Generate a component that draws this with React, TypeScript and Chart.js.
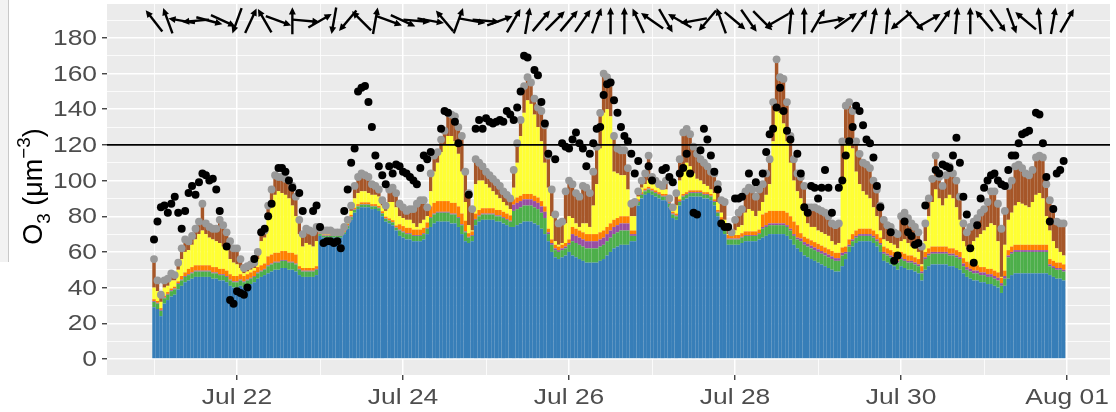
import React, { useEffect, useRef } from "react";
import { Chart, registerables } from "chart.js";

Chart.register(...registerables);

const W = 1116;
const H = 412;

// Hourly model contributions (hours since Jul 21 00:00)
const blue = [
  29, 28, 24, 31, 33, 35, 36, 39, 41, 43,
  44, 45, 46, 46, 46, 46, 46, 45, 45, 44,
  44, 43, 41, 40, 40, 41, 40, 41, 42, 43,
  45, 46, 47, 48, 49, 50, 50, 51, 51, 50,
  50, 49, 47, 46, 46, 46, 46, 47, 69, 68,
  68, 68, 68, 68, 68, 70, 73, 78, 82, 84,
  85, 85, 85, 84, 84, 83, 80, 77, 76, 75,
  72, 69, 68, 67, 67, 66, 66, 66, 67, 70,
  74, 76, 77, 77, 77, 77, 76, 76, 74, 70,
  66, 65, 66, 75, 77, 78, 78, 78, 78, 77,
  77, 76, 75, 74, 74, 75, 76, 77, 77, 77,
  76, 75, 73, 70, 66, 60, 57, 56, 57, 58,
  60, 58, 57, 56, 55, 54, 54, 54, 54, 55,
  56, 58, 60, 62, 63, 64, 64, 64, 66, 66,
  86, 90, 92, 93, 92, 91, 90, 89, 89, 85,
  79, 78, 86, 89, 90, 91, 91, 91, 91, 90,
  90, 89, 86, 80, 74, 70, 64, 64, 64, 64,
  65, 66, 66, 66, 66, 67, 68, 69, 70, 70,
  70, 70, 70, 69, 67, 64, 62, 60, 58, 57,
  56, 55, 54, 53, 52, 51, 50, 49, 49, 52,
  56, 60, 63, 65, 66, 66, 66, 66, 65, 63,
  60, 55, 54, 53, 52, 50, 52, 51, 50, 50,
  49, 48, 44, 50, 52, 53, 53, 53, 53, 53,
  52, 52, 51, 50, 48, 46, 45, 44, 44, 43,
  43, 42, 42, 41, 40, 37, 41, 45, 47, 48,
  48, 48, 48, 48, 48, 48, 48, 48, 48, 47,
  46, 45, 45, 44,
];

const green = [
  3, 3, 3, 3, 3, 3, 3, 3, 3, 3,
  3, 3, 3, 3, 3, 3, 3, 3, 3, 3,
  3, 3, 3, 3, 3, 3, 3, 3, 3, 3,
  3, 3, 3, 4, 4, 4, 4, 4, 4, 4,
  4, 4, 3, 3, 3, 3, 3, 3, 1, 1,
  1, 1, 1, 1, 1, 1, 1.5, 1.5, 1.5, 1.5,
  1.5, 1.5, 1.5, 1.5, 1.5, 1.5, 1.5, 1.5, 1.5, 1.5,
  1.5, 3, 3, 3, 3, 3, 3, 3, 3, 3,
  5, 5, 5, 5, 5, 5, 5, 5, 5, 5,
  5, 3, 3, 3, 3, 3, 3, 3, 3, 3,
  3, 3, 3, 3, 9, 9, 9, 9, 9, 9,
  9, 9, 9, 9, 4, 4, 4, 4, 4, 4,
  4, 8, 8, 8, 8, 8, 8, 8, 8, 8,
  8, 8, 8, 8, 8, 8, 8, 8, 3, 3,
  2, 2, 2, 2, 2, 2, 2, 2, 2, 2,
  2, 2, 2, 2, 2, 2, 2, 2, 2, 2,
  2, 2, 2, 2, 3, 3, 3, 3, 3, 3,
  3, 3, 3, 3, 3, 3, 5, 5, 5, 5,
  5, 5, 5, 5, 5, 5, 5, 6, 6, 6,
  6, 6, 6, 6, 6, 6, 6, 6, 6, 6,
  3, 3, 3, 3, 3, 3, 3, 3, 3, 3,
  4, 4, 4, 4, 4, 4, 4, 4, 4, 4,
  4, 4, 4, 6, 6, 6, 6, 6, 6, 6,
  6, 6, 6, 6, 4, 4, 4, 4, 4, 4,
  4, 4, 4, 4, 4, 4, 4, 12, 12, 12,
  12, 12, 12, 12, 12, 12, 12, 12, 12, 5,
  5, 5, 5, 5,
];

const purple = [
  0.5, 0.5, 0.5, 0.5, 0.5, 0.5, 0.5, 0.5, 0.5, 0.5,
  0.5, 0.5, 0.5, 0.5, 0.5, 0.5, 0.5, 0.5, 0.5, 0.5,
  0.5, 0.5, 0.5, 0.5, 0.5, 0.5, 0.5, 0.5, 0.5, 0.5,
  0.5, 0.5, 0.5, 0.5, 0.5, 0.5, 0.5, 0.5, 0.5, 0.5,
  0.5, 0.5, 0.5, 0.5, 0.5, 0.5, 0.5, 0.5, 0.3, 0.3,
  0.3, 0.3, 0.3, 0.3, 0.3, 0.3, 0.3, 0.3, 0.3, 0.3,
  0.3, 0.3, 0.3, 0.3, 0.3, 0.3, 0.3, 0.3, 0.3, 0.3,
  0.3, 0.5, 0.5, 0.5, 0.5, 0.5, 0.5, 0.5, 0.5, 0.5,
  0.5, 0.5, 0.5, 0.5, 0.5, 0.5, 0.5, 0.5, 0.5, 0.5,
  0.5, 0.5, 0.5, 0.5, 0.5, 0.5, 0.5, 0.5, 0.5, 0.5,
  0.5, 0.5, 0.5, 0.5, 3.5, 3.5, 3.5, 3.5, 3.5, 3.5,
  3.5, 3.5, 3.5, 3.5, 1, 1, 1, 1, 1, 1,
  1, 4, 4, 4, 4, 4, 4, 4, 4, 4,
  4, 4, 4, 4, 4, 4, 4, 4, 1, 1,
  0.5, 0.5, 0.5, 0.5, 0.5, 0.5, 0.5, 0.5, 0.5, 0.5,
  0.5, 0.5, 0.5, 0.5, 0.5, 0.5, 0.5, 0.5, 0.5, 0.5,
  0.5, 0.5, 0.5, 0.5, 0.5, 0.5, 0.5, 0.5, 0.5, 0.5,
  0.5, 0.5, 0.5, 0.5, 0.5, 0.5, 1, 1, 1, 1,
  1, 1, 1, 1, 1, 1, 1, 1.5, 1.5, 1.5,
  1.5, 1.5, 1.5, 1.5, 1.5, 1.5, 1.5, 1.5, 1.5, 1.5,
  1, 1, 1, 1, 1, 1, 1, 1, 1, 1,
  1, 1, 1, 1, 1, 1, 1, 1, 1, 1,
  1, 1, 1, 1, 1, 1, 1, 1, 1, 1,
  1, 1, 1, 1, 1.5, 1.5, 1.5, 1.5, 1.5, 1.5,
  1.5, 1.5, 1.5, 1.5, 1.5, 1.5, 1.5, 1, 1, 1,
  1, 1, 1, 1, 1, 1, 1, 1, 1, 1,
  1, 1, 1, 1,
];

const orange = [
  1, 1, 1, 1, 1, 1, 1, 1, 2, 2,
  3, 3, 3, 3, 3, 3, 3, 3, 3, 3,
  3, 3, 3, 3, 3, 3, 3, 3, 3, 3,
  3, 3, 3, 5, 5, 5, 5, 5, 5, 5,
  5, 5, 1.5, 1.5, 1.5, 1.5, 1.5, 1.5, 0.5, 0.5,
  0.5, 0.5, 0.5, 0.5, 0.5, 0.5, 1, 1, 1, 1,
  1, 1, 1, 1, 1, 1, 1, 1, 1, 1,
  1, 3, 3, 3, 3, 3, 3, 3, 3, 3,
  6, 6, 6, 6, 6, 6, 6, 6, 6, 6,
  6, 2, 2, 3, 3, 3, 3, 3, 3, 3,
  3, 3, 3, 3, 3, 3, 3, 3, 3, 3,
  3, 3, 3, 3, 2, 2, 2, 2, 2, 2,
  2, 4, 4, 4, 4, 4, 4, 4, 4, 4,
  4, 4, 4, 4, 4, 4, 4, 4, 2, 2,
  1, 1, 1, 1, 1, 1, 1, 1, 1, 1,
  1, 1, 1, 1, 1, 1, 1, 1, 1, 1,
  1, 1, 1, 1, 2, 2, 2, 2, 2, 2,
  2, 2, 2, 2, 2, 2, 7, 7, 7, 7,
  7, 7, 7, 7, 7, 7, 7, 3, 3, 3,
  3, 3, 3, 3, 3, 3, 3, 3, 3, 3,
  3, 3, 3, 3, 3, 3, 3, 3, 3, 3,
  3, 3, 3, 3, 3, 3, 3, 3, 3, 3,
  3, 3, 3, 3, 3, 3, 3, 3, 3, 3,
  3, 3, 3, 3, 3, 3, 3, 3, 3, 3,
  3, 3, 3, 3, 3, 3, 3, 3, 3, 3,
  3, 3, 3, 3, 3, 3, 3, 3, 3, 3,
  3, 3, 3, 3,
];

const yellow = [
  6.5, 5.5, 3.5, 4.5, 3.5, 4.5, 3.5, 6.5, 9.5, 11.5,
  10.5, 12.5, 14.5, 17.5, 19.5, 17.5, 15.5, 15.5, 14.5, 14.5,
  12.5, 11.5, 8.5, 7.5, 6.5, 3.5, 1.5, 1.5, 1.5, 1.5,
  4.5, 13.5, 14.5, 21.5, 28.5, 32.5, 34.5, 32.5, 31.5, 30.5,
  26.5, 21.5, 18, 12, 14, 13, 12, 14, 0.2, 0.2,
  0.2, 0.2, 0.2, 0.2, 0.2, 0.2, 1.2, 2.2, 5.2, 6.2,
  6.2, 6.2, 5.2, 5.2, 5.2, 5.2, 3.2, 3.2, 9.2, 10.2,
  10.2, 4.5, 4.5, 4.5, 4.5, 3.5, 1.5, 3.5, 4.5, 3.5,
  8.5, 17.5, 21.5, 27.5, 31.5, 36.5, 37.5, 34.5, 29.5, 23.5,
  10.5, 4.5, 0.5, 16.5, 16.5, 15.5, 13.5, 11.5, 9.5, 8.5,
  6.5, 5.5, 4.5, 3.5, 6.5, 19.5, 33.5, 45.5, 52.5, 50.5,
  45.5, 39.5, 33.5, 24.5, 23, 13, 2, 1, 1, 11,
  13, 5, 3, 2, 5, 6, 4, 16, 28, 47,
  66, 66, 60, 27, 25, 23, 23, 15, 8, 8,
  1.5, 2.5, 2.5, 3.5, 3.5, 3.5, 2.5, 2.5, 2.5, 0.5,
  1.5, 4.5, 10.5, 13.5, 16.5, 13.5, 9.5, 6.5, 5.5, 4.5,
  3.5, 2.5, 3.5, 4.5, 2.5, 2.5, 0.5, 0.5, 2.5, 4.5,
  4.5, 10.5, 12.5, 11.5, 8.5, 10.5, 7, 10, 15, 39,
  59, 55, 49, 40, 30, 23, 19, 19.5, 16.5, 8.5,
  7.5, 8.5, 7.5, 7.5, 7.5, 7.5, 5.5, 4.5, 5.5, 37.5,
  59, 57, 48, 33, 25, 21, 19, 17, 13, 10,
  4, 4, 4, 4, 4, 4, 6, 8, 7, 5,
  5, 4, 1, 6, 18, 25, 32, 27, 23, 27,
  30, 28, 24, 18, 9.5, 8.5, 10.5, 13.5, 15.5, 18.5,
  20.5, 23.5, 25.5, 25.5, 17.5, 0.5, 14.5, 17, 19, 22,
  24, 23, 22, 21, 24, 28, 29, 26, 16, 16,
  11, 8, 6, 5,
];

const brown = [
  16, 6, 4, 4, 4, 4, 3, 4, 6, 7,
  5, 5, 6, 7, 15, 6, 6, 6, 7, 13,
  12, 10, 10, 8, 9, 5, 3, 3, 3, 3,
  4, 5, 4, 7, 8, 11, 8, 9, 9, 10,
  11, 11, 8, 7, 8, 8, 8, 8, 2, 2,
  2, 2, 1, 1, 1, 2, 1, 3, 7, 9,
  10, 9, 9, 6, 5, 4, 3, 3, 7, 8,
  8, 7, 6, 5, 6, 8, 13, 13, 11, 5,
  10, 9, 6, 7, 8, 13, 12, 14, 15, 20,
  17, 18, 12, 14, 10, 8, 7, 7, 7, 7,
  7, 6, 6, 6, 10, 11, 9, 15, 13, 12,
  9, 11, 17, 21, 18, 15, 15, 12, 12, 18,
  20, 19, 17, 17, 21, 20, 19, 19, 21, 20,
  22, 18, 19, 20, 14, 14, 14, 12, 7, 8,
  3, 4, 6, 14, 3, 2, 2, 2, 5, 1,
  1, 7, 12, 21, 19, 18, 15, 14, 12, 12,
  11, 10, 11, 10, 7, 10, 4, 1, 6, 8,
  9, 12, 12, 12, 11, 12, 10, 12, 14, 22,
  26, 20, 25, 22, 15, 12, 10, 12, 12, 9,
  11, 11, 12, 12, 12, 11, 10, 11, 11, 22,
  20, 20, 21, 17, 17, 16, 17, 17, 15, 15,
  14, 11, 9, 9, 7, 8, 14, 15, 14, 13,
  12, 11, 10, 10, 10, 13, 19, 12, 11, 13,
  16, 14, 15, 13, 10, 8, 10, 11, 11, 12,
  12, 14, 18, 19, 21, 27, 19, 19, 18, 22,
  21, 20, 18, 18, 18, 21, 21, 23, 18, 17,
  18, 15, 16, 18,
];

// Observed O3 (null = missing)
const observed: (number | null)[] = [
  67, 77, 85, 86, 82, 87, 91, 82, 73, 83,
  93, 97, 92, 99, 104, 103, 100, 101, 95, 83,
  null, 63, 33, 31, 38, 37, 36, 40, null, 56,
  null, 71, 73, 80, 87, null, 107, 107, 105, 100,
  96, null, 93, 83, null, null, 83, 86, 74, 65,
  66, 66, 65, 66, 62, 83, 95, 110, 118, 150,
  152, 153, 144, 130, 114, 108, 103, 98, 108, 104,
  109, 108, 105, 104, 102, 100, 98, 107, 114, 112,
  116, null, null, 129, 139, 138, null, 133, 121, null,
  null, 92, null, 129, 134, 129, 135, 133, 132, 133,
  134, 133, 139, 137, 134, 141, 150, 170, 169, null,
  162, 159, 144, 132, 115, null, 112, null, 121, 119,
  118, 123, 127, 121, 118, 108, 115, 121, 129, 130,
  148, 154, 155, 145, 138, 130, 125, 122, 115, 104,
  111, null, null, 108, 100, null, null, 106, 107, 102,
  99, null, 104, 107, 115, 104, 82, 81, 117, 129,
  123, 114, 105, 95, 76, 74, 74, null, 90, 90,
  91, null, 104, null, 99, null, 104, 116, 126, 129,
  141, 152, 139, 128, 123, null, 115, 104, 85, 82,
  97, 96, 90, 96, 106, 96, 82, null, 96, 100,
  114, 122, 130, 142, 139, 131, 123, 121, 113, 97,
  85, null, null, 71, 55, 58, null, 77, 71, 69,
  64, 65, null, 86, null, null, 106, 104, 109, 108,
  107, 114, 124, 110, 91, 81, 62, 54, 75, 90,
  96, 100, 103, 104, 100, 98, 97, 106, 114, 114,
  121, 126, 127, 128, null, 138, 137, 121, 102, 77,
  84, 104, 106, 111,
];

// Wind arrows: hour of each arrow and direction it points (deg, 0 = up, clockwise)
const windHours = [
  0, 4, 8, 12, 16, 20, 24, 28, 32, 36, 40, 44, 48, 52, 56, 60, 64, 68, 72, 76,
  80, 84, 88, 92, 96, 100, 104, 108, 112, 116, 120, 124, 128, 132, 136, 140,
  144, 148, 152, 156, 160, 164, 168, 172, 176, 180, 184, 188, 192, 196, 200,
  204, 208, 212, 216, 220, 224, 228, 232, 236, 240, 244, 248, 252, 256, 260, 264,
];
const windDir = [
  -38, -20, -80, -95, 105, 115, 200, 25, -30, 110, 0, 95, 60, 190, 220, -45, 10,
  110, 115, 95, 100, -40, 20, 100, 95, 70, 30, 10, 40, 45, 40, 35, 20, 0, 0, -25,
  -55, 150, -60, -100, 220, -20, 130, 145, 135, 240, 5, 0, 30, 80, 55, 35, 10, 5,
  230, 140, 60, 35, 5, 0, -40, 145, 160, -50, -5, 10, 30,
];
const windLevel = 189.6;

const threshold = 120;

const xTickHours = [24, 72, 120, 168, 216, 264];
const xTickLabels = ["Jul 22", "Jul 24", "Jul 26", "Jul 28", "Jul 30", "Aug 01"];
const xGridHours = [0, 24, 48, 72, 96, 120, 144, 168, 192, 216, 240, 264];
const yTickValues = [0, 20, 40, 60, 80, 100, 120, 140, 160, 180];
const yGridValues = [0, 10, 20, 30, 40, 50, 60, 70, 80, 90, 100, 110, 120, 130, 140, 150, 160, 170, 180, 190];

const X_MIN = -13.59;
const X_MAX = 276.4;
const Y_MIN = -9;
const Y_MAX = 199;

const seriesColors = ["#377EB8", "#4DAF4A", "#984EA3", "#FF7F00", "#FFFF33", "#A65628"];

const FONT = "'Liberation Sans', Arial, Helvetica, sans-serif";
const STRETCH = 1.2;

function stretchedText(ctx: CanvasRenderingContext2D, text: string, x: number, y: number, align: CanvasTextAlign) {
  ctx.save();
  ctx.translate(x, y);
  ctx.scale(STRETCH, 1);
  ctx.textAlign = align;
  ctx.fillText(text, 0, 0);
  ctx.restore();
}

const panelPlugin = {
  id: "panelBg",
  beforeDraw(chart: any) {
    const { ctx, chartArea: a } = chart;
    ctx.save();
    ctx.fillStyle = "#EBEBEB";
    ctx.fillRect(a.left, a.top, a.right - a.left, a.bottom - a.top);
    ctx.restore();
  },
};

const overlayPlugin = {
  id: "overlay",
  afterDraw(chart: any) {
    const { ctx } = chart;
    const xs = chart.scales.x;
    const ys = chart.scales.y;
    const a = chart.chartArea;

    // wind arrows
    ctx.save();
    ctx.beginPath();
    ctx.rect(a.left, a.top, a.right - a.left, a.bottom - a.top);
    ctx.clip();
    ctx.strokeStyle = "#000";
    ctx.fillStyle = "#000";
    ctx.lineWidth = 2.4;
    ctx.lineCap = "butt";
    ctx.lineJoin = "miter";
    const L = 27;
    const head = 8;
    const yc = ys.getPixelForValue(windLevel);
    windHours.forEach((h, i) => {
      const xc = xs.getPixelForValue(h);
      const ang = (windDir[i] * Math.PI) / 180;
      const ux = Math.sin(ang);
      const uy = -Math.cos(ang);
      const x0 = xc - (ux * L) / 2;
      const y0 = yc - (uy * L) / 2;
      const x1 = xc + (ux * L) / 2;
      const y1 = yc + (uy * L) / 2;
      ctx.beginPath();
      ctx.moveTo(x0, y0);
      ctx.lineTo(x1 - ux * 3, y1 - uy * 3);
      ctx.stroke();
      const back = Math.atan2(-uy, -ux);
      const s = Math.PI / 7;
      ctx.beginPath();
      ctx.moveTo(x1, y1);
      ctx.lineTo(x1 + head * Math.cos(back + s), y1 + head * Math.sin(back + s));
      ctx.lineTo(x1 + head * Math.cos(back - s), y1 + head * Math.sin(back - s));
      ctx.closePath();
      ctx.fill();
    });
    ctx.restore();

    // tick labels
    ctx.save();
    ctx.fillStyle = "#4D4D4D";
    ctx.font = `22px ${FONT}`;
    ctx.textBaseline = "middle";
    yTickValues.forEach((v) => {
      stretchedText(ctx, String(v), 97, ys.getPixelForValue(v) + 1, "right");
    });
    ctx.textBaseline = "alphabetic";
    xTickHours.forEach((h, i) => {
      stretchedText(ctx, xTickLabels[i], xs.getPixelForValue(h), 404, "center");
    });
    ctx.restore();

    // y axis title: O3 (μm-3)
    ctx.save();
    ctx.fillStyle = "#000";
    const fs = 27;
    const parts = [
      { t: "O", s: 1, dy: 0 },
      { t: "3", s: 0.7, dy: 0.28 },
      { t: " (μm", s: 1, dy: 0 },
      { t: "−3", s: 0.7, dy: -0.45 },
      { t: ")", s: 1, dy: 0 },
    ];
    let total = 0;
    const widths = parts.map((p) => {
      ctx.font = `${fs * p.s}px ${FONT}`;
      const w = ctx.measureText(p.t).width;
      total += w;
      return w;
    });
    const cy = (a.top + a.bottom) / 2 - 3;
    ctx.translate(42, cy);
    ctx.rotate(-Math.PI / 2);
    let x = -total / 2;
    ctx.textBaseline = "alphabetic";
    ctx.textAlign = "left";
    parts.forEach((p, i) => {
      ctx.font = `${fs * p.s}px ${FONT}`;
      ctx.fillText(p.t, x, p.dy * fs);
      x += widths[i];
    });
    ctx.restore();
  },
};

export default function App() {
  const ref = useRef<HTMLCanvasElement | null>(null);

  useEffect(() => {
    document.body.style.margin = "0";
    const canvas = ref.current;
    if (!canvas) return;

    const stacks = [blue, green, purple, orange, yellow, brown];
    const totals = blue.map((_, i) => stacks.reduce((s, arr) => s + arr[i], 0));

    const barSets = stacks.map((arr, k) => ({
      type: "bar" as const,
      label: ["blue", "green", "purple", "orange", "yellow", "brown"][k],
      data: arr.map((v, i) => ({ x: i, y: v })),
      backgroundColor: seriesColors[k],
      borderWidth: 0,
      barPercentage: 1,
      categoryPercentage: 1,
      inflateAmount: 0,
      stack: "o3",
      order: 3,
    }));

    const obsPoints: { x: number; y: number }[] = [];
    observed.forEach((v, i) => {
      if (v !== null) obsPoints.push({ x: i, y: v });
    });

    const chart = new Chart(canvas, {
      type: "bar",
      data: {
        datasets: [
          ...barSets,
          {
            type: "line" as const,
            label: "model",
            data: totals.map((v, i) => ({ x: i, y: v })),
            showLine: false,
            pointRadius: 3.9,
            pointBackgroundColor: "#999999",
            pointBorderWidth: 0,
            pointHoverRadius: 3.9,
            stack: "model",
            order: 2,
          },
          {
            type: "line" as const,
            label: "observed",
            data: obsPoints,
            showLine: false,
            pointRadius: 4,
            pointBackgroundColor: "#000000",
            pointBorderWidth: 0,
            pointHoverRadius: 4,
            stack: "obs",
            order: 1,
          },
          {
            type: "line" as const,
            label: "limit",
            data: [
              { x: X_MIN, y: threshold },
              { x: X_MAX, y: threshold },
            ],
            borderColor: "#000000",
            borderWidth: 1.6,
            pointRadius: 0,
            stack: "limit",
            order: 0,
          },
        ] as any,
      },
      options: {
        responsive: false,
        animation: false,
        devicePixelRatio: 1,
        layout: { padding: { left: 0, right: 6, top: 4, bottom: 0 } },
        plugins: { legend: { display: false }, tooltip: { enabled: false } },
        events: [],
        scales: {
          x: {
            type: "linear",
            min: X_MIN,
            max: X_MAX,
            stacked: true,
            offset: false,
            afterBuildTicks: (s: any) => {
              s.ticks = xGridHours.map((v) => ({ value: v }));
            },
            afterFit: (s: any) => {
              s.height = 37;
            },
            ticks: { display: false },
            border: { display: false },
            grid: {
              offset: false,
              color: "#FFFFFF",
              lineWidth: (c: any) => (c.tick && xTickHours.includes(c.tick.value) ? 1.5 : 0.8),
              drawTicks: true,
              tickLength: 5,
              tickWidth: 1.3,
              tickColor: (c: any) => (c.tick && xTickHours.includes(c.tick.value) ? "#333333" : "rgba(0,0,0,0)"),
            },
          },
          y: {
            type: "linear",
            min: Y_MIN,
            max: Y_MAX,
            stacked: true,
            afterBuildTicks: (s: any) => {
              s.ticks = yGridValues.map((v) => ({ value: v }));
            },
            afterFit: (s: any) => {
              s.width = 107;
            },
            ticks: { display: false },
            border: { display: false },
            grid: {
              color: "#FFFFFF",
              lineWidth: (c: any) => (c.tick && yTickValues.includes(c.tick.value) ? 1.5 : 0.8),
              drawTicks: true,
              tickLength: 5,
              tickWidth: 1.3,
              tickColor: (c: any) => (c.tick && yTickValues.includes(c.tick.value) ? "#333333" : "rgba(0,0,0,0)"),
            },
          },
        },
      } as any,
      plugins: [panelPlugin, overlayPlugin],
    });

    return () => {
      chart.destroy();
    };
  }, []);

  return (
    <div style={{ position: "relative", width: W, height: H, background: "#FFFFFF" }}>
      <div
        style={{
          position: "absolute",
          left: 0,
          top: 0,
          width: 8,
          height: 262,
          background: "#F2F2F2",
          borderRight: "1px solid #C8C8C8",
        }}
      />
      <canvas ref={ref} width={W} height={H} style={{ display: "block", width: W, height: H }} />
    </div>
  );
}
